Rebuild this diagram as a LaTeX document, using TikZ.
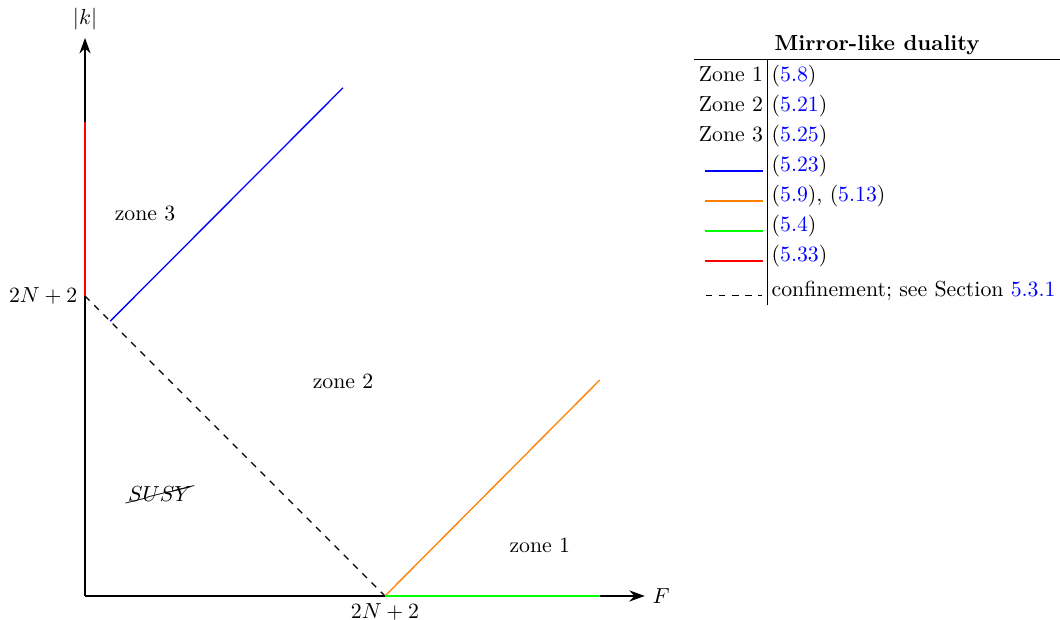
\documentclass[tikz,border=0pt]{standalone}
\usepackage{amsmath}
\usepackage{cancel}
\usepackage{xcolor}
\usetikzlibrary{arrows.meta, positioning}

\newcommand{\eqlink}[1]{(\textcolor{blue}{#1})}
\newcommand{\legline}[1]{\textcolor{#1}{\rule{0.94cm}{0.6pt}}}

\begin{document}
\begin{tikzpicture}[
  x=0.968cm, y=0.968cm,
  axis/.style={-{Stealth[length=2.5mm, width=1.8mm]}, line width=0.6pt},
  dualline/.style={line width=0.6pt},
  confline/.style={dashed, line width=0.6pt},
  zonelabel/.style={font=\normalsize}
]
\useasboundingbox (-1.417,-0.4) rectangle (16.25,9.933);

  % Points
  \coordinate (O) at (0,0);
  \coordinate (Fend) at (9.33,0);
  \coordinate (kend) at (0,9.3);
  \coordinate (Fc) at (5,0);
  \coordinate (kc) at (0,5);
  \coordinate (ktop) at (0,7.9);
  \coordinate (Fgreen) at (8.58,0);
  \coordinate (Forange) at (8.58,3.6);
  \coordinate (bstart) at (0.42,4.58);
  \coordinate (bend) at (4.3,8.47);

  % Axes
  \draw [axis] (O) -- (Fend) node[right] {$F$};
  \draw [axis] (O) -- (kend) node[above] {$|k|$};
  \node (Flab) [below] at (Fc) {$2N+2$};
  \node (klab) [left] at (kc) {$2N+2$};

  % Dualities
  \draw [confline] (kc) -- (Fc);
  \draw [dualline, red] (kc) -- (ktop);
  \draw [dualline, blue] (bstart) -- (bend);
  \draw [dualline, orange] (Fc) -- (Forange);
  \draw [dualline, green] (Fc) -- (Fgreen);

  % Zones
  \node (zthree) [zonelabel] at (1.0,6.38) {zone 3};
  \node (ztwo)   [zonelabel] at (4.3,3.57) {zone 2};
  \node (zone)   [zonelabel] at (7.58,0.85) {zone 1};
  \node (susy)   [zonelabel] at (1.25,1.7) {$\cancel{SUSY}$};

  % Legend
  \node (legend) [anchor=north west, inner sep=0pt] at (10.15,9.45) {%
    \renewcommand{\arraystretch}{1.15}%
    \setlength{\tabcolsep}{2pt}%
    \begin{tabular}{r|l}
      \multicolumn{2}{c}{\textbf{Mirror-like duality}} \\ \hline
      Zone 1 & \eqlink{5.8} \\
      Zone 2 & \eqlink{5.21} \\
      Zone 3 & \eqlink{5.25} \\
      \legline{blue} & \eqlink{5.23} \\
      \legline{orange} & \eqlink{5.9}, \eqlink{5.13} \\
      \legline{green} & \eqlink{5.4} \\
      \legline{red} & \eqlink{5.33} \\[2pt]
      \tikz\draw[dashed, line width=0.6pt] (0,0) -- (0.94,0); & confinement; see Section \textcolor{blue}{5.3.1}
    \end{tabular}};

\end{tikzpicture}
\end{document}
